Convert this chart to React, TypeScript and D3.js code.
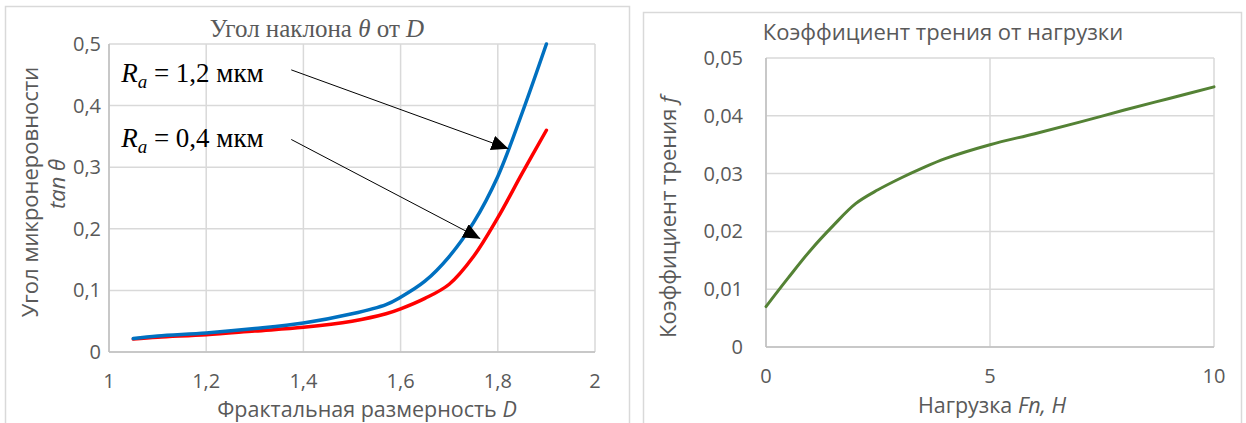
import React from "react";
import * as d3 from "d3";

// Левый график: tan θ от фрактальной размерности D
const dValues = [1.05, 1.1, 1.2, 1.3, 1.4, 1.5, 1.57, 1.6, 1.65, 1.7, 1.75, 1.8, 1.85, 1.9];
const tanRa12 = [0.022, 0.026, 0.031, 0.038, 0.047, 0.062, 0.077, 0.089, 0.115, 0.155, 0.21, 0.285, 0.388, 0.5];
const tanRa04 = [0.021, 0.024, 0.028, 0.034, 0.04, 0.05, 0.062, 0.07, 0.087, 0.11, 0.155, 0.218, 0.29, 0.36];
const leftXTicks = [1, 1.2, 1.4, 1.6, 1.8, 2];
const leftYTicks = [0, 0.1, 0.2, 0.3, 0.4, 0.5];

// Правый график: коэффициент трения от нагрузки
const loads = [0, 0.5, 1, 1.5, 2, 2.5, 3, 3.5, 4, 5, 6, 7, 8, 9, 10];
const friction = [0.007, 0.012, 0.0168, 0.021, 0.0248, 0.0272, 0.0292, 0.031, 0.0326, 0.035, 0.0369, 0.0389, 0.041, 0.043, 0.045];
const rightXTicks = [0, 5, 10];
const rightYTicks = [0, 0.01, 0.02, 0.03, 0.04, 0.05];

// Подписи со стрелками (в координатах данных)
const labels = [
  { value: "1,2", x: 1.025, y: 0.438, from: [1.375, 0.458], to: [1.822, 0.33] },
  { value: "0,4", x: 1.025, y: 0.333, from: [1.375, 0.345], to: [1.764, 0.184] },
];

const fmt = (v: number) => String(v).replace(".", ",");
const gray = "#595959";
const grid = "#d9d9d9";
const sans = "'Open Sans', Lato, sans-serif";
const serif = "'Liberation Serif', 'DejaVu Serif', serif";

export default function App() {
  // левая шкала
  const lx = d3.scaleLinear([1, 2], [109, 595]);
  const ly = d3.scaleLinear([0, 0.5], [352, 44]);
  // правая шкала
  const rx = d3.scaleLinear([0, 10], [766, 1214]);
  const ry = d3.scaleLinear([0, 0.05], [347, 58]);

  const leftLine = (vals: number[]) =>
    d3
      .line<number>()
      .x((_, i) => lx(dValues[i]))
      .y((v) => ly(v))
      .curve(d3.curveCatmullRom)(vals) as string;

  const rightLine = d3
    .line<number>()
    .x((_, i) => rx(loads[i]))
    .y((v) => ry(v))
    .curve(d3.curveCatmullRom)(friction) as string;

  return (
    <svg width={1246} height={423} style={{ position: "absolute", left: 0, top: 0, background: "#fff" }}>
      <defs>
        <marker id="arrow" viewBox="0 0 10 10" refX="10" refY="5" markerWidth="17" markerHeight="15" markerUnits="userSpaceOnUse" orient="auto" preserveAspectRatio="none">
          <path d="M0,0 L10,5 L0,10 Z" fill="#000" />
        </marker>
      </defs>

      {/* рамки панелей */}
      <rect x={5.5} y={6.5} width={624} height={430} fill="#fff" stroke={grid} strokeWidth={1.5} />
      <rect x={643.5} y={12.5} width={598} height={430} fill="#fff" stroke={grid} strokeWidth={1.5} />

      {/* ===== левый график ===== */}
      <g>
        {leftXTicks.map((t) => (
          <line key={"lx" + t} x1={lx(t)} x2={lx(t)} y1={ly(0.5)} y2={ly(0)} stroke={grid} strokeWidth={1.5} />
        ))}
        {leftYTicks.map((t) => (
          <line key={"ly" + t} x1={lx(1)} x2={lx(2)} y1={ly(t)} y2={ly(t)} stroke={grid} strokeWidth={1.5} />
        ))}
        <line x1={lx(1)} x2={lx(2)} y1={ly(0)} y2={ly(0)} stroke="#bfbfbf" strokeWidth={1.5} />
        <line x1={lx(1)} x2={lx(1)} y1={ly(0)} y2={ly(0.5)} stroke="#bfbfbf" strokeWidth={1.5} />

        {leftYTicks.map((t) => (
          <text key={"lyt" + t} x={101} y={ly(t)} dy="0.35em" textAnchor="end" fill={gray} fontFamily={sans} fontSize={20}>
            {fmt(t)}
          </text>
        ))}
        {leftXTicks.map((t) => (
          <text key={"lxt" + t} x={lx(t)} y={388} textAnchor="middle" fill={gray} fontFamily={sans} fontSize={20}>
            {fmt(t)}
          </text>
        ))}

        <path d={leftLine(tanRa04)} fill="none" stroke="#ff0000" strokeWidth={3.5} strokeLinecap="round" />
        <path d={leftLine(tanRa12)} fill="none" stroke="#0070c0" strokeWidth={3.5} strokeLinecap="round" />

        <text x={317} y={37} textAnchor="middle" fill={gray} fontFamily={serif} fontSize={25}>
          Угол наклона <tspan fontStyle="italic">θ</tspan> от <tspan fontStyle="italic">D</tspan>
        </text>
        <text x={367} y={417} textAnchor="middle" fill={gray} fontFamily={sans} fontSize={21.5}>
          Фрактальная размерность <tspan fontStyle="italic">D</tspan>
        </text>
        <text transform="translate(38,192) rotate(-90)" textAnchor="middle" fill={gray} fontFamily={sans} fontSize={22}>
          Угол микронеровности
        </text>
        <text transform="translate(65,184) rotate(-90)" textAnchor="middle" fill={gray} fontFamily={sans} fontSize={22} fontStyle="italic">
          tan θ
        </text>

        {labels.map((a) => (
          <g key={a.value}>
            <line x1={lx(a.from[0])} y1={ly(a.from[1])} x2={lx(a.to[0])} y2={ly(a.to[1])} stroke="#000" strokeWidth={1} markerEnd="url(#arrow)" />
            <text x={lx(a.x)} y={ly(a.y)} fill="#000" fontFamily={serif} fontSize={27}>
              <tspan fontStyle="italic">R</tspan>
              <tspan fontStyle="italic" fontSize={19} dy={6}>a</tspan>
              <tspan dy={-6}>{` = ${a.value} мкм`}</tspan>
            </text>
          </g>
        ))}
      </g>

      {/* ===== правый график ===== */}
      <g>
        {rightXTicks.map((t) => (
          <line key={"rx" + t} x1={rx(t)} x2={rx(t)} y1={ry(0.05)} y2={ry(0)} stroke={grid} strokeWidth={1.5} />
        ))}
        {rightYTicks.map((t) => (
          <line key={"ry" + t} x1={rx(0)} x2={rx(10)} y1={ry(t)} y2={ry(t)} stroke={grid} strokeWidth={1.5} />
        ))}
        <line x1={rx(0)} x2={rx(10)} y1={ry(0)} y2={ry(0)} stroke="#bfbfbf" strokeWidth={1.5} />
        <line x1={rx(0)} x2={rx(0)} y1={ry(0)} y2={ry(0.05)} stroke="#bfbfbf" strokeWidth={1.5} />

        {rightYTicks.map((t) => (
          <text key={"ryt" + t} x={743} y={ry(t)} dy="0.35em" textAnchor="end" fill={gray} fontFamily={sans} fontSize={20}>
            {fmt(t)}
          </text>
        ))}
        {rightXTicks.map((t) => (
          <text key={"rxt" + t} x={rx(t)} y={383} textAnchor="middle" fill={gray} fontFamily={sans} fontSize={20}>
            {fmt(t)}
          </text>
        ))}

        <path d={rightLine} fill="none" stroke="#548235" strokeWidth={3} strokeLinecap="round" />

        <text x={943} y={40} textAnchor="middle" fill={gray} fontFamily={sans} fontSize={22}>
          Коэффициент трения от нагрузки
        </text>
        <text x={992} y={413} textAnchor="middle" fill={gray} fontFamily={sans} fontSize={21.5}>
          Нагрузка <tspan fontStyle="italic">Fn, Н</tspan>
        </text>
        <text transform="translate(676,217) rotate(-90)" textAnchor="middle" fill={gray} fontFamily={sans} fontSize={22}>
          Коэффициент трения <tspan fontStyle="italic">f</tspan>
        </text>
      </g>
    </svg>
  );
}
